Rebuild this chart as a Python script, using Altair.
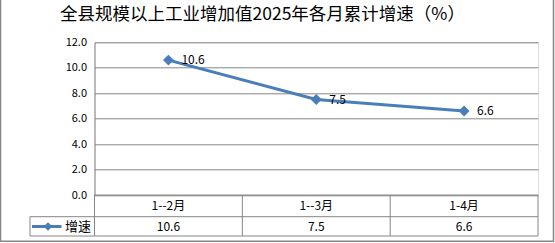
import altair as alt
import pandas as pd

categories = ["1--2月", "1--3月", "1-4月"]
values = [10.6, 7.5, 6.6]
series_name = "增速"
title_text = "全县规模以上工业增加值2025年各月累计增速（%）"
y_ticks = [0, 2, 4, 6, 8, 10, 12]

df = pd.DataFrame({"cat": categories, "val": values, "series": [series_name] * len(categories)})
leg = pd.DataFrame({"series": [series_name], "title": [title_text]})

W, H = 443.5, 152.7
FONT = "Noto Sans CJK SC"
GRID = "#868686"
BLUE = "#4a7ebb"
ROW2 = 174.4
BOT = 193.7

xenc = alt.X("cat:N", sort=categories, scale=alt.Scale(paddingInner=0, paddingOuter=0), axis=None)
yenc = alt.Y("val:Q", scale=alt.Scale(domain=[0, 12], nice=False),
             axis=alt.Axis(title=None, values=y_ticks, format=".1f", ticks=False, labelOverlap=False,
                           labelPadding=8, labelFontSize=11, labelColor="#000", labelFont=FONT,
                           gridColor=GRID, gridWidth=1, domainColor=GRID, domainWidth=1))

base = alt.Chart(df)

line = base.mark_line(color=BLUE, strokeWidth=3).encode(x=xenc, y=yenc)
pts = base.mark_point(shape="diamond", filled=True, color=BLUE, size=120, opacity=1).encode(x=xenc, y=yenc)
labels = base.mark_text(align="left", baseline="middle", dx=13, fontSize=12, font=FONT, color="#000").encode(
    x=xenc, y=yenc, text=alt.Text("val:Q", format=".1f"))

# data table
vlines = base.mark_rule(color=GRID, strokeWidth=1).encode(
    x=alt.X("cat:N", sort=categories, bandPosition=0, axis=None), y=alt.value(H), y2=alt.value(BOT))
vright = alt.Chart(leg).mark_rule(color=GRID, strokeWidth=1).encode(
    x=alt.value(W), y=alt.value(H), y2=alt.value(BOT))
vleft = alt.Chart(leg).mark_rule(color=GRID, strokeWidth=1).encode(
    x=alt.value(-64.5), y=alt.value(ROW2), y2=alt.value(BOT))
h2 = alt.Chart(leg).mark_rule(color=GRID, strokeWidth=1).encode(
    x=alt.value(-64.5), x2=alt.value(W), y=alt.value(ROW2))
h3 = alt.Chart(leg).mark_rule(color=GRID, strokeWidth=1).encode(
    x=alt.value(-64.5), x2=alt.value(W), y=alt.value(BOT))
h1 = alt.Chart(leg).mark_rule(color=GRID, strokeWidth=1).encode(
    x=alt.value(0), x2=alt.value(W), y=alt.value(H))
cats = base.mark_text(align="center", baseline="middle", fontSize=12, font=FONT, color="#000").encode(
    x=xenc, y=alt.value(163.5), text="cat:N")
vals = base.mark_text(align="center", baseline="middle", fontSize=12, font=FONT, color="#000").encode(
    x=xenc, y=alt.value(184.2), text=alt.Text("val:Q", format=".1f"))

# legend key
leg_line = alt.Chart(leg).mark_rule(color=BLUE, strokeWidth=3).encode(
    x=alt.value(-62.5), x2=alt.value(-33), y=alt.value(184.2))
leg_pt = alt.Chart(leg).mark_point(shape="diamond", filled=True, color=BLUE, size=75, opacity=1).encode(
    x=alt.value(-46.5), y=alt.value(184.2))
leg_txt = alt.Chart(leg).mark_text(align="center", baseline="middle", fontSize=13, font=FONT, color="#000").encode(
    x=alt.value(-16.5), y=alt.value(184.2), text="series:N")

# title
ttl = alt.Chart(leg).mark_text(align="center", baseline="middle", fontSize=17.5, font=FONT, color="#000").encode(
    x=alt.value(168), y=alt.value(-27.5), text="title:N")

border = alt.Chart(leg).mark_rect(fill=None, stroke=GRID, strokeWidth=1.5).encode(
    x=alt.value(-94), x2=alt.value(459), y=alt.value(-60), y2=alt.value(199))

chart = alt.layer(
    border, h1, h2, h3, vlines, vright, vleft, cats, vals, line, pts, labels, leg_line, leg_pt, leg_txt, ttl
).properties(
    width=W, height=H,
    padding={"left": 94.5, "top": 42.3, "right": 17, "bottom": 48},
    autosize=alt.AutoSizeParams(type="none"),
).configure_view(stroke=None).configure(background="white")

chart.save("out.html", embed_options={"renderer": "svg", "actions": False})
